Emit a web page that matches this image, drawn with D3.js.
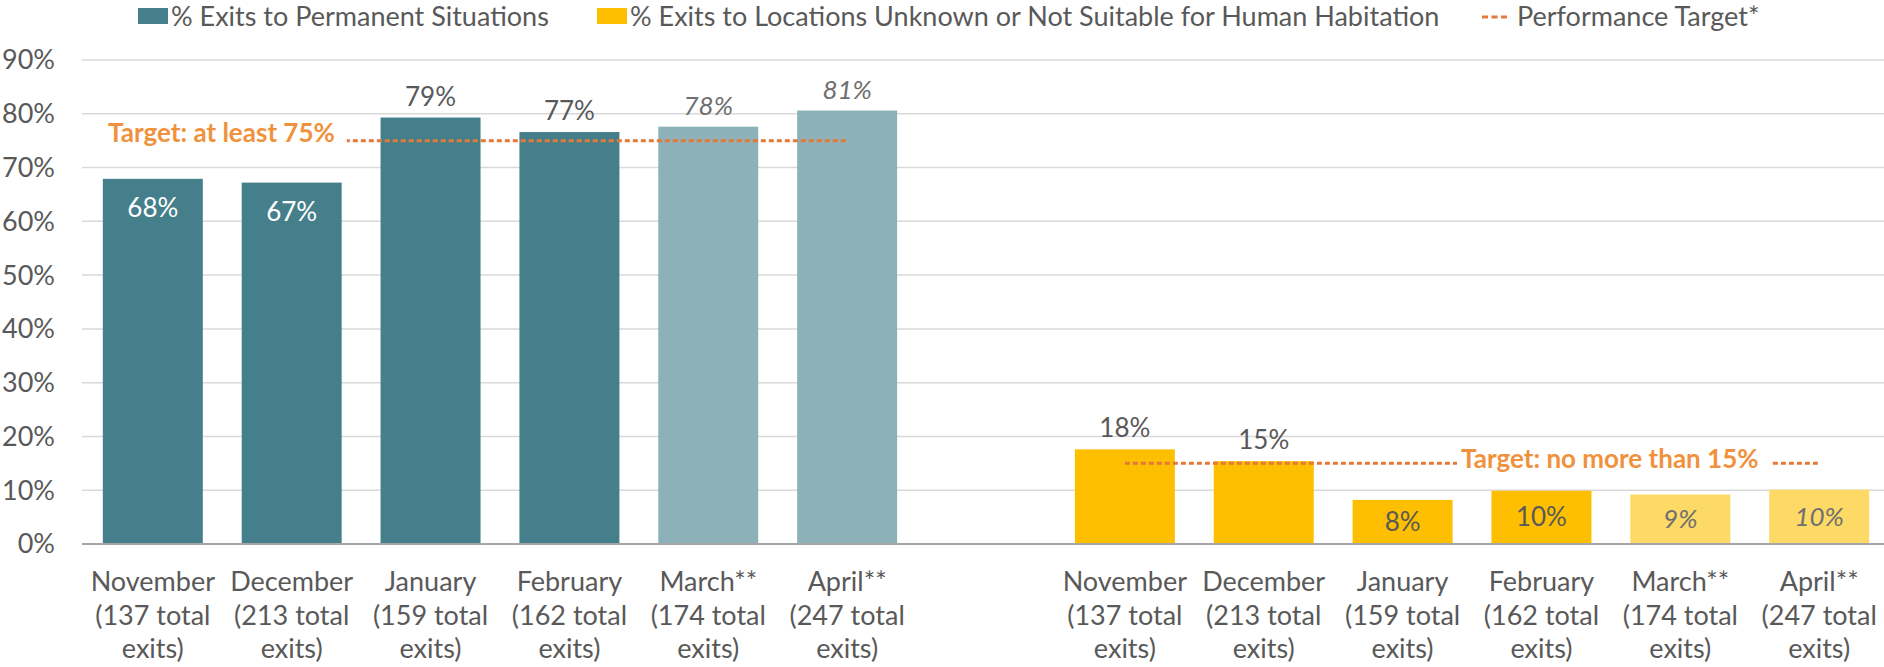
<!DOCTYPE html>
<html>
<head>
<meta charset="utf-8">
<script src="https://cdn.jsdelivr.net/npm/d3@7"></script>
<style>
  body { margin: 0; background: #fff; }
  text { font-family: Lato, "Noto Sans", sans-serif; }
</style>
</head>
<body>
<div id="chart"></div>
<script>
const months = ['November', 'December', 'January', 'February', 'March**', 'April**'];
const total_exits = [137, 213, 159, 162, 174, 247];
const projected = [false, false, false, false, true, true];

const permanent = [0.679, 0.672, 0.793, 0.766, 0.776, 0.806];
const unknown = [0.176, 0.154, 0.082, 0.099, 0.092, 0.101];

const targets = [0.75, 0.15];
const target_labels = ['Target: at least 75%', 'Target: no more than 15%'];

const y_ticks = [0, 0.1, 0.2, 0.3, 0.4, 0.5, 0.6, 0.7, 0.8, 0.9];
const legend_labels = ['% Exits to Permanent Situations',
    '% Exits to Locations Unknown or Not Suitable for Human Habitation',
    'Performance Target*'];

const chart_width = 1884;
const chart_height = 667;

const text_color = '#595959';
const colors = {
    permanent: '#467f8c', permanent_light: '#8db1b9',
    unknown: '#fdbf00', unknown_light: '#fdd966',
    target: '#e4793a', target_text: '#f0923d'
};

// label placement per bar: 'above', 'inside_end' or 'center'
const place_left = ['inside_end', 'inside_end', 'above', 'above', 'above', 'above'];
const place_right = ['above', 'above', 'center', 'center', 'center', 'center'];

const svg = d3.select('#chart')
    .append('svg')
    .attr('width', chart_width)
    .attr('height', chart_height);

// 13 slots: 6 left bars, 1 empty gap, 6 right bars
const x_scale = d3.scaleBand()
    .domain(d3.range(13))
    .range([82, 1890])
    .paddingInner(0.28)
    .paddingOuter(0.15);

const y_scale = d3.scaleLinear()
    .domain([0, 0.9])
    .range([544, 60]);

const fmt = d3.format('.0%');

// gridlines
svg.selectAll('.grid')
    .data(y_ticks.slice(1))
    .enter()
    .append('line')
    .attr('x1', 82)
    .attr('x2', chart_width)
    .attr('y1', d => y_scale(d))
    .attr('y2', d => y_scale(d))
    .attr('stroke', '#d9d9d9')
    .attr('stroke-width', 1.5);

// y axis labels
svg.selectAll('.ytick')
    .data(y_ticks)
    .enter()
    .append('text')
    .text(d => fmt(d))
    .attr('x', 55)
    .attr('y', d => y_scale(d))
    .attr('dy', '0.35em')
    .attr('text-anchor', 'end')
    .attr('font-size', 27)
    .attr('fill', text_color);

const groups = [
    {values: permanent, offset: 0, color: colors.permanent, light: colors.permanent_light, place: place_left},
    {values: unknown, offset: 7, color: colors.unknown, light: colors.unknown_light, place: place_right}
];

groups.forEach(g => {
    const rows = g.values.map((v, i) => ({v, i, slot: i + g.offset}));

    svg.append('g')
        .selectAll('rect')
        .data(rows)
        .enter()
        .append('rect')
        .attr('x', d => x_scale(d.slot))
        .attr('y', d => y_scale(d.v))
        .attr('width', x_scale.bandwidth())
        .attr('height', d => y_scale(0) - y_scale(d.v))
        .attr('fill', d => projected[d.i] ? g.light : g.color);

    svg.append('g')
        .selectAll('text')
        .data(rows)
        .enter()
        .append('text')
        .text(d => fmt(d.v))
        .attr('x', d => x_scale(d.slot) + x_scale.bandwidth() / 2)
        .attr('y', d => {
            const p = g.place[d.i];
            if (p === 'above') return y_scale(d.v) - 21;
            if (p === 'inside_end') return y_scale(d.v) + 29;
            return (y_scale(d.v) + y_scale(0)) / 2;
        })
        .attr('dy', '0.35em')
        .attr('text-anchor', 'middle')
        .attr('font-size', 26)
        .attr('font-style', d => projected[d.i] ? 'italic' : 'normal')
        .attr('fill', d => g.place[d.i] === 'inside_end' ? '#fff' : (projected[d.i] ? '#6f6f6f' : text_color));

    // category labels, three lines each
    const lab = svg.append('g')
        .selectAll('text')
        .data(rows)
        .enter()
        .append('text')
        .attr('text-anchor', 'middle')
        .attr('font-size', 27)
        .attr('fill', text_color);
    const lines = d => [months[d.i], '(' + total_exits[d.i] + ' total', 'exits)'];
    lab.selectAll('tspan')
        .data(d => lines(d).map(t => ({t, x: x_scale(d.slot) + x_scale.bandwidth() / 2})))
        .enter()
        .append('tspan')
        .attr('x', d => d.x)
        .attr('y', (d, j) => 591 + j * 33.5)
        .text(d => d.t);
});

// baseline
svg.append('line')
    .attr('x1', 82)
    .attr('x2', chart_width)
    .attr('y1', y_scale(0))
    .attr('y2', y_scale(0))
    .attr('stroke', '#a6a6a6')
    .attr('stroke-width', 2);

// target lines with their labels on white boxes
const target_boxes = [
    {text_x: 108, dy: -8},
    {text_x: 1461, dy: -4}
];
targets.forEach((t, k) => {
    const off = k === 0 ? 0 : 7;
    svg.append('line')
        .attr('x1', x_scale(off) + x_scale.bandwidth() / 2)
        .attr('x2', x_scale(off + 5) + x_scale.bandwidth() / 2)
        .attr('y1', y_scale(t))
        .attr('y2', y_scale(t))
        .attr('stroke', colors.target)
        .attr('stroke-width', 3)
        .attr('stroke-dasharray', '5,3');

    const b = target_boxes[k];
    const txt = svg.append('text')
        .text(target_labels[k])
        .attr('x', b.text_x)
        .attr('y', y_scale(t) + b.dy)
        .attr('dy', '0.35em')
        .attr('font-size', 26)
        .attr('font-weight', 'bold')
        .attr('fill', colors.target_text);
    const bb = txt.node().getBBox();
    svg.insert('rect', () => txt.node())
        .attr('x', bb.x - 4)
        .attr('y', bb.y)
        .attr('width', bb.width + 16)
        .attr('height', bb.height)
        .attr('fill', '#fff');
});

// legend
const legend = svg.append('g');
const legend_items = [
    {x: 138, kind: 'rect', color: colors.permanent},
    {x: 597, kind: 'rect', color: colors.unknown},
    {x: 1482, kind: 'dash', color: colors.target}
];
legend_items.forEach((d, i) => {
    if (d.kind === 'rect') {
        legend.append('rect')
            .attr('x', d.x)
            .attr('y', 8)
            .attr('width', 30)
            .attr('height', 16)
            .attr('fill', d.color);
    } else {
        legend.append('line')
            .attr('x1', d.x)
            .attr('x2', d.x + 28)
            .attr('y1', 17)
            .attr('y2', 17)
            .attr('stroke', d.color)
            .attr('stroke-width', 3)
            .attr('stroke-dasharray', '6,3.5');
    }
    legend.append('text')
        .text(legend_labels[i])
        .attr('x', d.x + (d.kind === 'rect' ? 33 : 35))
        .attr('y', 17)
        .attr('dy', '0.35em')
        .attr('font-size', 27)
        .attr('fill', text_color);
});
</script>
</body>
</html>
